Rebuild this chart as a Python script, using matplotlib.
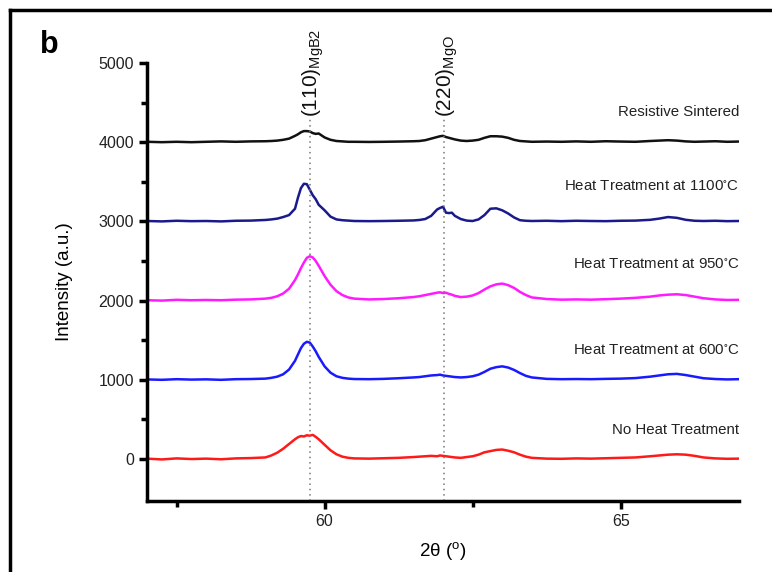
import numpy as np
import matplotlib
matplotlib.use('Agg')
import matplotlib.pyplot as plt
from matplotlib.lines import Line2D

plt.rcParams['font.family'] = ['Liberation Sans', 'DejaVu Sans']
plt.rcParams['mathtext.default'] = 'regular'

# 2theta (deg)
two_theta = [57.0, 57.25, 57.5, 57.75, 58.0, 58.25, 58.5, 58.75, 59.0,
             59.1, 59.2, 59.3, 59.4, 59.5, 59.55, 59.6, 59.65, 59.7, 59.75, 59.8, 59.85, 59.9,
             60.0, 60.1, 60.2, 60.3, 60.4, 60.5,
             60.75, 61.0, 61.25, 61.5,
             61.6, 61.7, 61.8, 61.9, 61.95, 62.0, 62.05, 62.1, 62.15, 62.2, 62.3, 62.4, 62.5,
             62.6, 62.7, 62.8, 62.9, 63.0, 63.1, 63.2, 63.3, 63.4, 63.5,
             63.75, 64.0, 64.25, 64.5, 64.75, 65.0, 65.25, 65.5,
             65.65, 65.8, 65.95, 66.1, 66.25, 66.4, 66.6, 66.8, 67.0]

# intensities above each baseline
no_heat = [5, -5, 8, 0, 5, -3, 8, 12, 20,
           45, 80, 130, 190, 250, 275, 290, 285, 300, 295, 305, 280, 250,
           180, 110, 60, 30, 15, 8,
           5, 10, 15, 25,
           30, 35, 40, 35, 45, 40, 35, 30, 25, 20, 15, 25, 35,
           55, 85, 100, 115, 120, 105, 85, 55, 30, 15,
           5, 3, 8, 5, 10, 15, 20, 35,
           45, 55, 60, 55, 40, 20, 8, 3, 5]
ht_600 = [5, 0, 8, 3, 6, 0, 8, 10, 15,
          25, 40, 70, 130, 240, 320, 400, 455, 480, 470, 420, 360, 290,
          170, 90, 45, 25, 15, 10,
          8, 12, 20, 30,
          35, 45, 55, 60, 65, 55, 50, 45, 40, 35, 30, 35, 45,
          65, 100, 140, 160, 170, 155, 125, 85, 50, 30,
          12, 8, 10, 8, 12, 15, 22, 40,
          55, 70, 75, 60, 40, 20, 10, 5, 8]
ht_950 = [5, 0, 10, 5, 8, 5, 12, 15, 25,
          35, 55, 90, 150, 260, 330, 410, 480, 540, 560, 545, 500, 440,
          310, 200, 120, 70, 40, 25,
          15, 20, 30, 45,
          55, 70, 85, 100, 105, 95, 100, 85, 75, 60, 45, 50, 65,
          95, 140, 180, 205, 215, 195, 160, 110, 70, 40,
          20, 12, 15, 12, 18, 25, 35, 50,
          65, 75, 80, 70, 50, 30, 15, 8, 10]
ht_1100 = [5, 0, 8, 3, 5, 0, 8, 10, 18,
           25, 35, 55, 80, 160, 300, 420, 475, 470, 400, 330, 280, 210,
           140, 60, 25, 15, 10, 5,
           3, 5, 8, 12,
           18, 30, 70, 150, 170, 185, 110, 105, 110, 70, 30, 10, 5,
           25, 80, 160, 165, 140, 100, 50, 15, 8, 5,
           8, 3, 8, 5, 3, 8, 10, 20,
           35, 55, 45, 20, 8, 5, 8, 3, 5]
resistive = [5, 0, 5, 0, 5, 10, 5, 10, 12,
             15, 20, 30, 45, 80, 100, 125, 140, 140, 135, 115, 105, 110,
             60, 30, 15, 10, 5, 5,
             3, 5, 8, 12,
             15, 25, 45, 65, 75, 80, 65, 55, 45, 35, 20, 15, 20,
             30, 55, 75, 75, 70, 55, 30, 15, 10, 5,
             8, 5, 10, 5, 12, 8, 5, 15,
             20, 25, 20, 10, 5, 8, 12, 5, 8]

series = [no_heat, ht_600, ht_950, ht_1100, resistive]
baselines = [0, 1000, 2000, 3000, 4000]
colors = ['#ff1a1a', '#1a1aff', '#ff1aff', '#1a1a8c', '#111111']
names = ['No Heat Treatment', r'Heat Treatment at 600$^{\circ}$C',
         r'Heat Treatment at 950$^{\circ}$C', r'Heat Treatment at 1100$^{\circ}$C',
         'Resistive Sintered']
name_y = [370, 1380, 2460, 3450, 4380]

peak_pos = [59.75, 62.02]
peak_names = ['(110)$_{MgB2}$', '(220)$_{MgO}$']

fig = plt.figure(figsize=(7.72, 5.72), dpi=100)
ax = fig.add_axes([0.1904, 0.1241, 0.7669, 0.7658])

for y, b, c in zip(series, baselines, colors):
    ax.plot(two_theta, np.array(y) + b, color=c, lw=1.8)

for n, ny in zip(names, name_y):
    ax.text(67.0, ny, n, ha='right', va='center', fontsize=10.8, color='#222222')

for p, pn in zip(peak_pos, peak_names):
    ax.plot([p, p], [-530, 4300], ls=(0, (1, 2.5)), color='#777777', lw=1.1)
    ax.text(p + 0.06, 4320, pn, rotation=90, ha='center', va='bottom',
            fontsize=15, color='#111111', clip_on=False)

ax.set_xlim(57, 67)
ax.set_ylim(-530, 5000)
ax.set_xticks([60, 65])
ax.set_xticks([57.5, 62.5], minor=True)
ax.set_yticks([0, 1000, 2000, 3000, 4000, 5000])
ax.set_yticks([500, 1500, 2500, 3500, 4500], minor=True)
ax.spines['top'].set_visible(False)
ax.spines['right'].set_visible(False)
ax.spines['left'].set_bounds(-530, 5000)
for s in ['left', 'bottom']:
    ax.spines[s].set_linewidth(2.5)
ax.tick_params(which='major', direction='out', length=6, width=2.5,
               labelsize=11.5, labelcolor='#222222')
ax.tick_params(which='minor', direction='out', length=4, width=2.5)

ax.set_xlabel(r'2$\theta$ ($^{o}$)', fontsize=13.5, labelpad=8)
ax.set_ylabel('Intensity (a.u.)', fontsize=13.5, labelpad=18)

fig.text(40 / 772, 1 - 45 / 572, 'b', fontsize=22, fontweight='bold', va='center')

# outer frame (top and left only visible)
fig.add_artist(Line2D([10 / 772, 10 / 772], [0, 1 - 10 / 572], color='black', lw=2.5))
fig.add_artist(Line2D([10 / 772, 1], [1 - 10 / 572, 1 - 10 / 572], color='black', lw=2.5))

fig.savefig('out.png', dpi=100)
